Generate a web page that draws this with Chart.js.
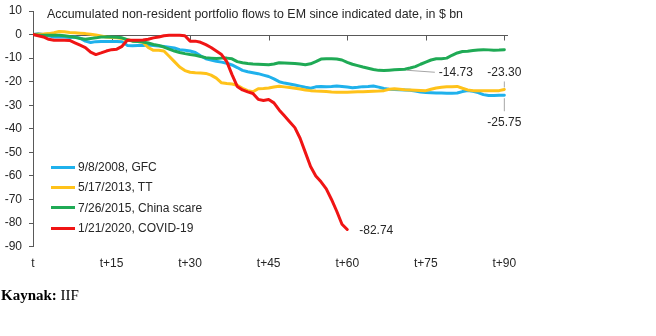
<!DOCTYPE html>
<html>
<head>
<meta charset="utf-8">
<script src="https://cdn.jsdelivr.net/npm/chart.js@4.4.1/dist/chart.umd.min.js"></script>
<style>
    body { margin: 0; background: #ffffff; }
    #wrap { position: relative; width: 656px; height: 336px; font-family: 'Liberation Sans', Arial, sans-serif; }
    #flows-legend { position: absolute; left: 51px; top: 157px; }
    .chart-legend-item { display: flex; align-items: center; height: 20.3px; font-size: 12px; color: #262626; white-space: nowrap; }
    .chart-legend-color { display: inline-block; width: 24px; height: 3px; margin-right: 3px; }
    #source { position: absolute; left: 1px; top: 287px; font-family: 'Liberation Serif', 'Times New Roman', serif; font-size: 15px; color: #000; }
</style>
</head>
<body>
<div id="wrap">
    <canvas id="flows-chart" width="656" height="336"></canvas>
    <div id="flows-legend"></div>
    <div id="source"><b>Kaynak:</b> IIF</div>
</div>
<script>
// Trading days since each event date
const days = Array.from({ length: 91 }, (_, i) => i);

// Accumulated flows, $ bn
const gfc2008 = [
    0, 0.3, 0, -0.5, -1, -1, -1, -1.2, -1, -1.5,
    -2.8, -3.4, -3, -2.9, -2.9, -2.9, -2.9, -3, -4.6, -4.8,
    -4.6, -4.6, -4.4, -4.6, -4.9, -5.1, -5.4, -5.7, -6.4, -6.7,
    -7, -7.6, -9, -10.3, -10.8, -11.3, -11.7, -12.2, -12.9, -14,
    -15.2, -15.8, -16.2, -16.6, -17.2, -17.8, -18.8, -20, -20.6, -21,
    -21.4, -21.9, -22.4, -22.8, -22.2, -22, -22.1, -22, -21.8, -22,
    -22.3, -22.6, -22.4, -22.1, -22, -21.8, -22.3, -22.9, -23.2, -23.3,
    -23.4, -23.5, -23.6, -24, -24.4, -24.6, -24.7, -24.8, -24.8, -24.9,
    -24.9, -24.8, -24.2, -23.8, -24.1, -24.6, -25.5, -25.9, -25.9, -25.8,
    -25.75
];

const taperTantrum2013 = [
    0, 0.1, 0.2, 0.4, 0.8, 1.3, 1.2, 0.9, 0.8, 0.6,
    0.4, 0.1, -0.2, -0.6, -1, -1.2, -1.4, -1.7, -2.2, -2.6,
    -3, -3.3, -5.5, -6.7, -6.7, -7, -9.2, -11.5, -13.8, -15.3,
    -16, -16.2, -16.3, -16.5, -17.2, -18.5, -20.5, -20.8, -21, -21.5,
    -22.8, -23.8, -24.3, -23, -22.9, -22.7, -22.3, -21.9, -22.2, -22.5,
    -22.8, -23.1, -23.5, -23.8, -24, -24.1, -24.2, -24.4, -24.5, -24.5,
    -24.5, -24.4, -24.3, -24.3, -24.2, -24.1, -24, -23.8, -23.2, -23,
    -23.2, -23.4, -23.5, -23.6, -23.7, -23.8, -23.2, -22.7, -22.4, -22.2,
    -22.1, -22, -22.8, -23.5, -23.8, -23.9, -23.9, -23.9, -23.9, -23.8,
    -23.3
];

const chinaScare2015 = [
    0, -0.2, -0.3, -0.3, -0.3, -0.3, -0.5, -0.8, -1.2, -1.7,
    -2, -1.7, -1.4, -1, -1, -1, -1.1, -1.4, -2.2, -2.8,
    -3, -3.2, -3.6, -4.2, -4.6, -5.3, -6.2, -7, -7.6, -8.1,
    -8.5, -8.8, -9.3, -9.8, -10, -10.2, -10, -10, -10.3, -11.5,
    -12, -12.3, -12.5, -12.6, -12.7, -12.8, -12.5, -12, -12.1, -12.2,
    -12.3, -12.5, -12.8, -12.4, -11.5, -10.4, -10.3, -10.3, -10.4, -10.8,
    -11.8, -12.6, -13.2, -13.8, -14.3, -14.8, -15.2, -15.3, -15.1, -14.9,
    -14.8, -14.73, -14.2, -13.6, -12.6, -11.7, -10.8, -10.3, -10.3, -10,
    -8.8, -7.8, -7.2, -7.1, -6.8, -6.6, -6.4, -6.5, -6.7, -6.6,
    -6.4
];

const covid2020 = [
    0, -0.5, -1, -2, -2.4, -2.4, -2.4, -2.5, -3.5, -4.5,
    -5.5, -7.5, -8.5, -7.8, -7, -6.4, -6.2, -5, -2.4, -2.4,
    -2.4, -2.3, -2, -1.4, -1, -0.5, -0.3, -0.3, -0.3, -0.5,
    -2.8, -2.8, -3.3, -4.3, -5.5, -7, -8.5, -11.5, -17, -22,
    -23.5, -24.3, -25, -27.5, -28, -27.6, -29, -32, -34.5, -37,
    -39.5, -44, -50, -56, -60, -62.5, -65.5, -70, -75, -80.5,
    -82.74
];

const xTickDays = [0, 15, 30, 45, 60, 75, 90];
const xTickLabels = ['t', 't+15', 't+30', 't+45', 't+60', 't+75', 't+90'];

const seriesLabels = ['9/8/2008, GFC', '5/17/2013, TT', '7/26/2015, China scare', '1/21/2020, COVID-19'];

const COLORS = {
    gfc: '#1FB1EC',
    tt: '#FFC21A',
    china: '#1FAA55',
    covid: '#F01414',
    axis: '#595959',
    text: '#262626',
    leader: '#A6A6A6'
};

const FONT = "'Liberation Sans', Arial, sans-serif";

// Value callouts: dataset index, point index, text, offset from the point
const callouts = [
    { ds: 2, idx: 71, text: '-14.73', dx: 34, dy: 3, align: 'left', leader: [[2, 1], [30, 3]] },
    { ds: 1, idx: 90, text: '-23.30', dx: 0, dy: -17, align: 'center', leader: [[0, -2], [0, -8]] },
    { ds: 0, idx: 90, text: '-25.75', dx: 0, dy: 27, align: 'center', leader: [[0, 3], [0, 16]] },
    { ds: 3, idx: 60, text: '-82.74', dx: 12, dy: 1, align: 'left', leader: null }
];

function toPoints(values) {
    return values.map((v, i) => ({ x: days[i], y: v }));
}

function lineDataset(label, values, color, order) {
    return {
        label: label,
        data: toPoints(values),
        borderColor: color,
        backgroundColor: color,
        borderWidth: 3,
        fill: false,
        tension: 0,
        borderJoinStyle: 'round',
        borderCapStyle: 'round',
        pointRadius: 0,
        order: order
    };
}

// x axis line sits at zero, title inside the plot, value callouts
const overlayPlugin = {
    id: 'overlay',
    beforeDatasetsDraw(chart) {
        const { ctx, chartArea, scales } = chart;
        const y0 = Math.round(scales.y.getPixelForValue(0)) + 0.5;
        ctx.save();
        ctx.strokeStyle = COLORS.axis;
        ctx.lineWidth = 1;
        ctx.beginPath();
        ctx.moveTo(chartArea.left, y0);
        ctx.lineTo(chartArea.right, y0);
        xTickDays.forEach(d => {
            const x = Math.round(scales.x.getPixelForValue(d)) + 0.5;
            ctx.moveTo(x, y0);
            ctx.lineTo(x, y0 + 5);
        });
        ctx.stroke();

        ctx.fillStyle = COLORS.text;
        ctx.font = `12.4px ${FONT}`;
        ctx.textBaseline = 'middle';
        ctx.fillText('Accumulated non-resident portfolio flows to EM since indicated date, in $ bn', chartArea.left + 14, 15);
        ctx.restore();
    },
    afterDatasetsDraw(chart) {
        const { ctx } = chart;
        ctx.save();
        ctx.font = `12px ${FONT}`;
        ctx.textBaseline = 'middle';
        callouts.forEach(c => {
            const pt = chart.getDatasetMeta(c.ds).data[c.idx];
            if (!pt) return;
            if (c.leader) {
                ctx.strokeStyle = COLORS.leader;
                ctx.lineWidth = 1;
                ctx.beginPath();
                ctx.moveTo(pt.x + c.leader[0][0], pt.y + c.leader[0][1]);
                ctx.lineTo(pt.x + c.leader[1][0], pt.y + c.leader[1][1]);
                ctx.stroke();
            }
            ctx.fillStyle = COLORS.text;
            ctx.textAlign = c.align;
            ctx.fillText(c.text, pt.x + c.dx, pt.y + c.dy);
        });
        ctx.restore();
    }
};

const canvas = document.getElementById('flows-chart');

new Chart(canvas.getContext('2d'), {
    type: 'line',
    data: {
        datasets: [
            lineDataset(seriesLabels[0], gfc2008, COLORS.gfc, 3),
            lineDataset(seriesLabels[1], taperTantrum2013, COLORS.tt, 2),
            lineDataset(seriesLabels[2], chinaScare2015, COLORS.china, 1),
            lineDataset(seriesLabels[3], covid2020, COLORS.covid, 0)
        ]
    },
    options: {
        responsive: false,
        animation: false,
        layout: {
            padding: { top: 11, right: 148, bottom: 55, left: 0 }
        },
        plugins: {
            legend: { display: false },
            title: { display: false },
            tooltip: { enabled: false }
        },
        scales: {
            x: {
                type: 'linear',
                min: 0,
                max: 90.7,
                grid: { display: false, drawTicks: false },
                border: { display: false },
                afterBuildTicks: (scale) => {
                    scale.ticks = xTickDays.map(v => ({ value: v }));
                },
                ticks: {
                    color: COLORS.text,
                    padding: 10,
                    maxRotation: 0,
                    font: { family: FONT, size: 12 },
                    callback: (value) => xTickLabels[xTickDays.indexOf(value)]
                }
            },
            y: {
                min: -90,
                max: 10,
                afterFit: (scale) => {
                    scale.width = 33;
                    scale.paddingTop = 0;
                    scale.paddingBottom = 0;
                },
                grid: {
                    drawOnChartArea: false,
                    drawTicks: true,
                    tickLength: 4,
                    color: COLORS.axis
                },
                border: { display: true, color: COLORS.axis, width: 1 },
                ticks: {
                    stepSize: 10,
                    color: COLORS.text,
                    padding: 7,
                    font: { family: FONT, size: 12 }
                }
            }
        }
    },
    plugins: [overlayPlugin]
});

// Legend drawn in HTML over the lower-left of the plot
function createCustomLegend(containerId, items) {
    const container = document.getElementById(containerId);
    if (!container) return;
    container.innerHTML = '';
    items.forEach(item => {
        const legendItem = document.createElement('div');
        legendItem.className = 'chart-legend-item';
        legendItem.innerHTML = `
            <span class="chart-legend-color" style="background-color: ${item.color}"></span>
            <span class="chart-legend-label">${item.label}</span>
        `;
        container.appendChild(legendItem);
    });
}

createCustomLegend('flows-legend', [
    { label: seriesLabels[0], color: COLORS.gfc },
    { label: seriesLabels[1], color: COLORS.tt },
    { label: seriesLabels[2], color: COLORS.china },
    { label: seriesLabels[3], color: COLORS.covid }
]);
</script>
</body>
</html>
